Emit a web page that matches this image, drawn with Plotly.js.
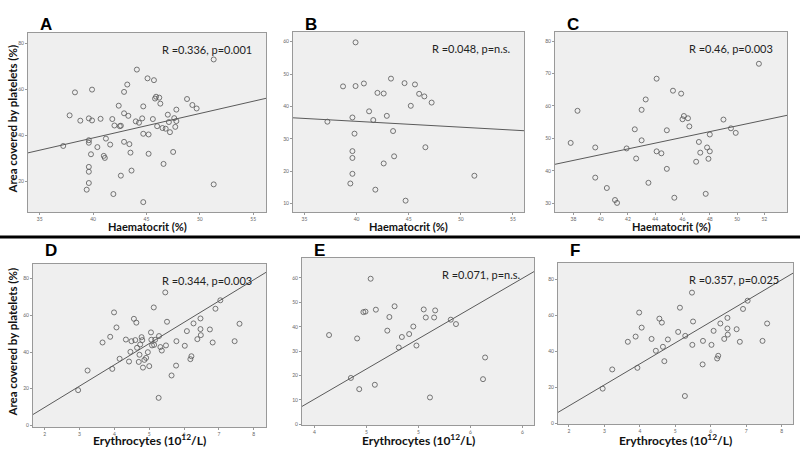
<!DOCTYPE html>
<html><head><meta charset="utf-8">
<script src="https://cdn.plot.ly/plotly-3.0.1.min.js"></script>
<style>html,body{margin:0;padding:0;background:#fff}#chart{width:800px;height:450px}</style>
</head><body><div id="chart"></div>
<script>
// ---- data ----
const hctA = [37.2,37.8,38.3,38.8,39.6,39.9,39.9,39.6,39.6,39.8,39.6,39.6,39.6,39.4,40.4,40.7,41.0,41.1,41.2,41.6,41.8,42.0,41.9,42.4,42.5,42.6,42.6,42.9,42.9,42.9,43.2,43.3,43.4,43.5,43.6,44.1,44.0,44.3,44.6,44.7,44.7,44.7,45.1,45.2,45.2,45.7,45.6,45.8,45.9,46.0,46.2,46.3,46.5,46.8,46.6,47.0,47.1,47.2,47.5,47.6,47.7,47.8,47.8,48.8,49.3,49.7,51.3,51.3];
const areaA = [35.3,48.6,58.6,46.3,47.3,46.4,59.8,37.8,36.7,31.7,26.2,24.1,19.2,16.3,34.8,47.1,31.0,30.1,38.5,35.9,47.0,44.2,14.4,52.8,43.9,44.1,22.4,58.8,49.5,37.1,62.0,48.4,36.1,32.4,24.6,68.5,46.0,45.4,47.3,52.5,40.6,10.9,64.7,40.3,31.9,63.9,47.0,55.9,56.7,43.9,56.3,53.7,43.1,42.8,27.5,48.9,45.7,41.3,32.7,47.4,43.6,51.1,46.1,55.7,53.1,51.6,72.9,18.6];
const hctB = [37.2,38.7,39.9,39.9,40.7,39.6,39.8,39.6,39.6,39.6,39.4,41.2,41.6,42.0,42.6,41.8,42.6,42.9,43.3,43.5,43.6,44.6,44.7,45.2,45.6,46.0,46.5,46.6,47.2,51.3];
const areaB = [35.3,46.2,59.8,46.3,47.1,36.6,31.6,26.2,24.1,19.2,16.2,38.5,35.8,44.2,44.0,14.3,22.4,37.1,48.6,32.4,24.6,47.2,10.9,40.2,46.8,43.9,43.1,27.4,41.2,18.6];
const hctC = [37.8,38.3,39.6,39.6,40.45,41.05,41.2,41.9,42.5,42.6,43.0,43.0,43.3,43.5,44.1,44.1,44.45,44.85,44.85,45.3,45.4,45.9,46.0,46.1,46.4,46.5,47.0,47.2,47.3,47.7,47.8,47.9,48.0,48.0,49.0,49.55,49.9,51.6];
const areaC = [48.6,58.5,47.2,37.9,34.7,31.0,30.1,46.9,52.8,43.8,49.4,58.8,62.0,36.3,68.4,46.0,45.4,52.5,40.6,64.7,31.7,63.8,55.9,56.9,56.2,53.7,42.8,48.9,45.6,32.9,47.2,43.7,51.2,46.0,55.8,53.1,51.7,73.0];
const eryD = [2.96,3.23,3.66,3.88,3.94,3.99,4.06,4.15,4.33,4.42,4.46,4.49,4.56,4.60,4.63,4.65,4.70,4.72,4.74,4.78,4.80,4.82,4.86,4.91,4.96,5.00,5.05,5.06,5.08,5.13,5.14,5.17,5.28,5.27,5.32,5.36,5.46,5.48,5.51,5.78,5.77,5.64,6.02,6.08,6.18,6.21,6.27,6.38,6.47,6.47,6.48,6.74,6.82,6.90,7.04,7.45,7.59];
const areaD = [19.2,29.9,45.2,48.3,30.8,61.6,53.4,36.3,46.8,34.8,40.1,45.9,58.1,46.5,56.0,42.3,34.6,38.5,44.1,48.1,46.5,31.5,35.7,36.8,39.9,32.3,50.7,46.7,43.6,64.3,43.9,46.7,48.7,15.0,42.7,40.8,72.5,43.6,56.5,45.9,32.6,27.2,43.4,51.4,36.1,37.7,55.6,47.0,58.3,52.5,49.2,52.3,45.2,63.6,68.2,45.9,55.4];
const eryE = [4.14,4.35,4.41,4.43,4.47,4.49,4.54,4.58,4.59,4.70,4.72,4.77,4.81,4.84,4.91,4.95,4.98,5.05,5.07,5.11,5.15,5.16,5.31,5.36,5.62,5.64];
const areaE = [36.6,19.0,35.2,14.4,46.0,46.2,59.7,16.2,47.0,38.4,44.0,48.4,31.5,35.8,37.0,40.1,32.3,47.1,43.8,11.0,43.8,46.7,42.9,41.1,18.5,27.4];
const eryF = [2.95,3.22,3.66,3.88,3.93,3.98,4.05,4.33,4.45,4.55,4.62,4.65,4.69,4.79,5.08,5.13,5.28,5.27,5.47,5.50,5.48,5.78,5.77,6.02,6.08,6.18,6.21,6.27,6.38,6.47,6.47,6.48,6.73,6.82,6.91,7.04,7.46,7.59];
const areaF = [19.3,30.0,45.4,48.3,30.9,61.7,53.3,47.0,40.4,58.3,56.1,42.6,34.6,46.7,50.9,64.4,48.7,15.2,72.8,56.7,43.7,45.9,32.8,43.7,51.5,36.1,37.6,55.6,47.0,58.7,52.8,49.4,52.4,45.4,63.7,68.3,45.9,55.6];

const panelLetters = ['A','B','C','D','E','F'];
const statLabels = ['R =0.336, p=0.001','R =0.048, p=n.s.','R =0.46, p=0.003','R =0.344, p=0.003','R =0.071, p=n.s.','R =0.357, p=0.025'];
const fitSlopes = [1.063, -0.18, 0.888, 11.6, 24.8, 11.7];
const fitIntercepts = [-3.73, 42.6, 9.46, -13.4, -88.9, -13.7];
const xTicksHct = [35,40,45,50,55];
const xTicksC = [38,40,42,44,46,48,50,52];
const xTicksEry = [2,3,4,5,6,7,8];
const xTicksE = [4,4.5,5,5.5,6];
const xTickTextE = ['4','5','5','6','6'];
const yTicksA = [20,40,60,80];
const yTicksB = [10,20,30,40,50,60];
const yTicksC = [30,40,50,60,70,80];
const yTicksD = [0,20,40,60,80];
const yTicksE = [0,10,20,30,40,50,60];
const xTitleHct = 'Haematocrit (%)';
const xTitleEry = 'Erythrocytes (10<sup>12</sup>/L)';
const yTitle = 'Area covered by platelets (%)';

// ---- layout geometry (pixels) ----
const W = 800, H = 450;
const boxes = [
  {x0:28,  x1:266, y0:33,  y1:212, xr:[33.9,56.2],  yr:[6.6,84.4]},
  {x0:293, x1:524, y0:32,  y1:212, xr:[33.9,56.06], yr:[7.4,63.0]},
  {x0:555, x1:787, y0:32,  y1:212, xr:[36.65,53.66],yr:[27.3,82.8]},
  {x0:33,  x1:266, y0:264, y1:427, xr:[1.665,8.35], yr:[-0.9,88.0]},
  {x0:302, x1:534, y0:258, y1:425, xr:[3.88,6.11],  yr:[-0.3,68.2]},
  {x0:558, x1:793, y0:263, y1:424, xr:[1.69,8.32],  yr:[-0.4,89.3]}
];
const xs = [hctA,hctB,hctC,eryD,eryE,eryF];
const ys = [areaA,areaB,areaC,areaD,areaE,areaF];
const xt = [xTicksHct,xTicksHct,xTicksC,xTicksEry,xTicksE,xTicksEry];
const xtt = [null,null,null,null,xTickTextE,null];
const yt = [yTicksA,yTicksB,yTicksC,yTicksD,yTicksE,yTicksD];

const data = [];
const layout = {
  width:W, height:H, margin:{l:0,r:0,t:0,b:0}, showlegend:false,
  paper_bgcolor:'#ffffff', plot_bgcolor:'#efefef',
  annotations:[], shapes:[]
};
const fam = 'Lato, "Liberation Sans", sans-serif';
boxes.forEach((b,i)=>{
  const n = i===0?'':String(i+1);
  const xa = 'x'+n, ya = 'y'+n;
  data.push({type:'scatter', mode:'markers', x:xs[i], y:ys[i], xaxis:xa, yaxis:ya,
    marker:{symbol:'circle-open', size:5, color:'#555', line:{width:0.8,color:'#555'}}, hoverinfo:'skip'});
  const lx = b.xr.slice();
  const ly = lx.map(v=>fitIntercepts[i]+fitSlopes[i]*v);
  data.push({type:'scatter', mode:'lines', x:lx, y:ly, xaxis:xa, yaxis:ya,
    line:{color:'#5a5a5a', width:1}, hoverinfo:'skip'});
  const common = {showgrid:false, zeroline:false, showline:true, mirror:true, linecolor:'#999', linewidth:1,
    ticks:'outside', ticklen:2, tickcolor:'#999', tickwidth:1, tickfont:{size:5, color:'#666', family:fam}};
  const xax = Object.assign({}, common, {domain:[b.x0/W, b.x1/W], range:b.xr, anchor:ya, tickmode:'array', tickvals:xt[i]});
  if (xtt[i]) xax.ticktext = xtt[i];
  const yax = Object.assign({}, common, {domain:[1-b.y1/H, 1-b.y0/H], range:b.yr, anchor:xa, tickmode:'array', tickvals:yt[i]});
  layout['xaxis'+n] = xax;
  layout['yaxis'+n] = yax;
  // panel letter
  layout.annotations.push({xref:'paper', yref:'paper', x:(b.x0+10)/W, y:1-(i<3?24:250)/H, xanchor:'left', yanchor:'middle',
    text:'<b>'+panelLetters[i]+'</b>', showarrow:false, font:{size:17, color:'#000', family:'"Liberation Sans", Arial, sans-serif'}});
  // stat label
  layout.annotations.push({xref:'paper', yref:'paper', x:(b.x1-12)/W, y:1-(b.y0+16)/H, xanchor:'right', yanchor:'middle',
    text:statLabels[i], showarrow:false, font:{size:11, color:'#222', family:fam}});
  // x title
  layout.annotations.push({xref:'paper', yref:'paper', x:(b.x0+b.x1)/2/W, y:1-(i<3?226:440)/H, xanchor:'center', yanchor:'middle',
    text:'<b>'+(i<3?xTitleHct:xTitleEry)+'</b>', showarrow:false, font:{size:i<3?11:12, color:'#111', family:fam}});
});
// y titles
[0,3].forEach(i=>{
  const b = boxes[i];
  layout.annotations.push({xref:'paper', yref:'paper', x:12/W, y:1-((b.y0+b.y1)/2 - 3)/H, xanchor:'center', yanchor:'middle',
    text:'<b>'+yTitle+'</b>', textangle:-90, showarrow:false, font:{size:11.5, color:'#111', family:fam}});
});
// separator
layout.shapes.push({type:'line', xref:'paper', yref:'paper', x0:0, x1:1, y0:1-237/H, y1:1-237/H, line:{color:'#000', width:3}});

Plotly.newPlot('chart', data, layout, {displayModeBar:false, staticPlot:true});
</script></body></html>
